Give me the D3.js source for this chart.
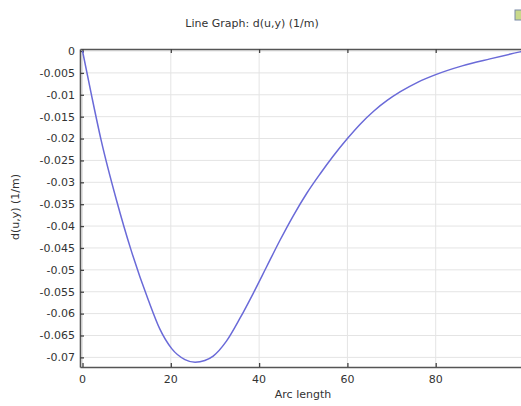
<!DOCTYPE html>
<html><head><meta charset="utf-8">
<script src="https://cdn.jsdelivr.net/npm/d3@7"></script>
<style>
html,body{margin:0;padding:0;background:#fff;overflow:hidden;}
text{font-family:"DejaVu Sans",sans-serif;fill:#333;}
</style></head>
<body>
<script>
const arcLength = [0, 2, 4.2, 7.7, 11, 14.9, 17.5, 20.2, 23.2, 25.5, 27.7, 29.6, 32.6, 35.7, 38.7, 41.7, 44.7, 47.7, 50.8, 53.8, 56.8, 60, 63, 66, 69, 72, 76, 80, 86, 92.3, 99.1, 100];
const dValues = [0, -0.0099, -0.0203, -0.0341, -0.0455, -0.0569, -0.0635, -0.0680, -0.0705, -0.0711, -0.0707, -0.0697, -0.0663, -0.0610, -0.0553, -0.0493, -0.0433, -0.0377, -0.0325, -0.0281, -0.0240, -0.0200, -0.0166, -0.0137, -0.0113, -0.0093, -0.0071, -0.0054, -0.0034, -0.0018, -0.0002, 0];
const xTicks = [0, 20, 40, 60, 80];
const yTicks = [0, -0.005, -0.01, -0.015, -0.02, -0.025, -0.03, -0.035, -0.04, -0.045, -0.05, -0.055, -0.06, -0.065, -0.07];
const yTickLabels = ["0", "-0.005", "-0.01", "-0.015", "-0.02", "-0.025", "-0.03", "-0.035", "-0.04", "-0.045", "-0.05", "-0.055", "-0.06", "-0.065", "-0.07"];
const titleText = "Line Graph: d(u,y) (1/m)";
const xLabel = "Arc length";
const yLabel = "d(u,y) (1/m)";

const W = 521, H = 406;
const pL = 80, pR = 524, pT = 49, pB = 367;
const svg = d3.select("body").append("svg").attr("width", W).attr("height", H);

const x = d3.scaleLinear().domain([-0.57, 100]).range([pL, pR]);
const y = d3.scaleLinear().domain([0.00046, -0.0722]).range([pT, pB]);

// grid
const g = svg.append("g");
g.selectAll(".gx").data(xTicks).enter().append("line")
  .attr("x1", d => x(d)).attr("x2", d => x(d)).attr("y1", pT).attr("y2", pB)
  .attr("stroke", "#e4e4e4").attr("stroke-width", 1);
g.selectAll(".gy").data(yTicks).enter().append("line")
  .attr("x1", pL).attr("x2", pR).attr("y1", d => y(d)).attr("y2", d => y(d))
  .attr("stroke", "#e4e4e4").attr("stroke-width", 1);

// axes (inward ticks)
const axL = svg.append("g").attr("transform", `translate(${pL},0)`)
  .call(d3.axisRight(y).tickValues(yTicks).tickFormat("").tickSizeInner(4).tickSizeOuter(0));
const axB = svg.append("g").attr("transform", `translate(0,${pB})`)
  .call(d3.axisTop(x).tickValues(xTicks).tickFormat("").tickSizeInner(4).tickSizeOuter(0));
const axT = svg.append("g").attr("transform", `translate(0,${pT})`)
  .call(d3.axisBottom(x).tickValues(xTicks).tickFormat("").tickSizeInner(4).tickSizeOuter(0));
[axL, axB, axT].forEach(a => {
  a.select(".domain").attr("stroke", "#555").attr("stroke-width", 1.6);
  a.selectAll(".tick line").attr("stroke", "#444").attr("stroke-width", 1.3);
});

// tick labels
svg.append("g").selectAll("text").data(yTicks).enter().append("text")
  .attr("x", pL - 5).attr("y", d => y(d)).attr("dy", "0.35em")
  .attr("text-anchor", "end").attr("font-size", 11)
  .text((d, i) => yTickLabels[i]);
svg.append("g").selectAll("text").data(xTicks).enter().append("text")
  .attr("x", d => x(d)).attr("y", pB + 16)
  .attr("text-anchor", "middle").attr("font-size", 11)
  .text(d => d);

// line
const pts = arcLength.map((a, i) => [a, dValues[i]]);
svg.append("path").datum(pts)
  .attr("d", d3.line().x(d => x(d[0])).y(d => y(d[1])).curve(d3.curveMonotoneX))
  .attr("fill", "none").attr("stroke", "#6a6ad8").attr("stroke-width", 1.5);

// labels
svg.append("text").attr("x", 252).attr("y", 27).attr("text-anchor", "middle")
  .attr("font-size", 11).text(titleText);
svg.append("text").attr("x", 303).attr("y", 398).attr("text-anchor", "middle")
  .attr("font-size", 11).text(xLabel);
svg.append("text").attr("transform", "translate(19,207) rotate(-90)")
  .attr("text-anchor", "middle").attr("font-size", 11).text(yLabel);

// small icon at top-right (cut off)
svg.append("rect").attr("x", 515).attr("y", 10).attr("width", 8).attr("height", 10)
  .attr("fill", "#c9d98a").attr("stroke", "#7a8aa6").attr("stroke-width", 1);
</script>
</body></html>
